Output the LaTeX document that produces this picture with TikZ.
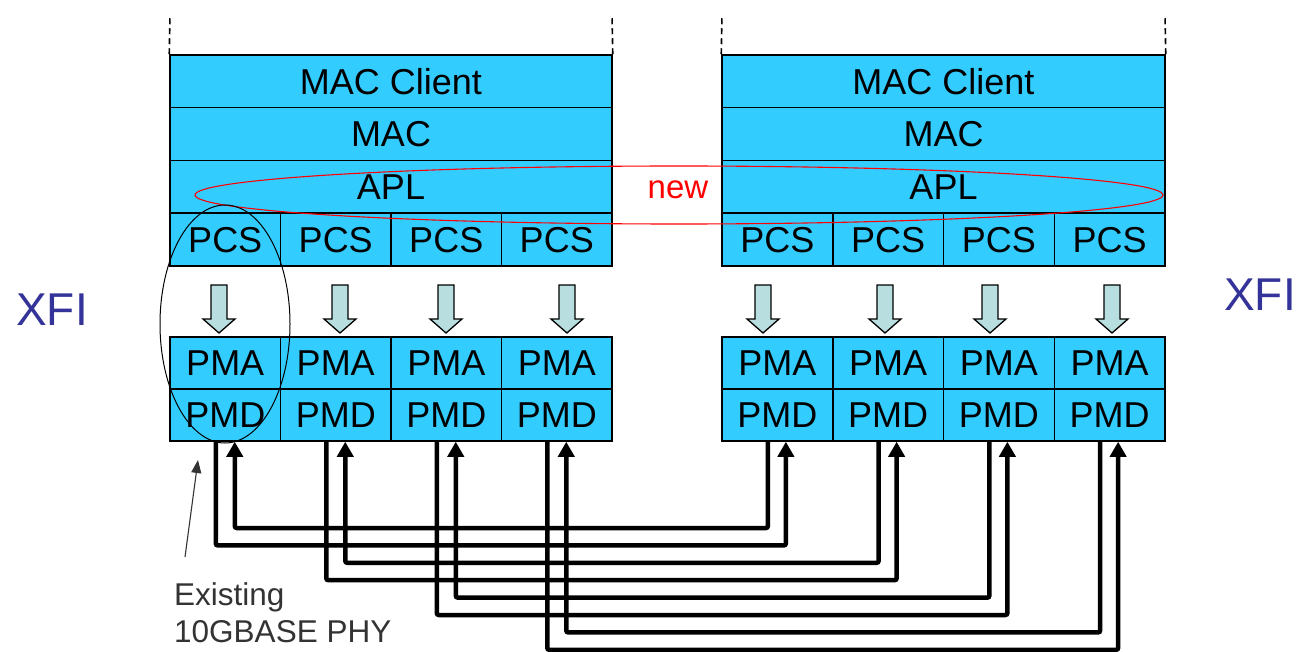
\documentclass[tikz,border=0pt]{standalone}
\usepackage{fontspec}
\setmainfont{Liberation Sans}
\usetikzlibrary{arrows.meta}
\definecolor{cellblue}{HTML}{33CCFF}
\definecolor{arrowfill}{HTML}{B8DEE0}
\definecolor{xfiblue}{HTML}{333399}
\definecolor{newred}{HTML}{FF0000}
\definecolor{graytext}{HTML}{333333}
\begin{document}
\begin{tikzpicture}[x=1pt,y=-1pt,
  cell/.style={draw=black, line width=1.5pt, fill=cellblue, inner sep=0pt,
    font=\fontsize{36}{40}\selectfont},
  toprow/.style={cell, minimum height=52.75pt},
  lowrow/.style={cell, minimum height=52pt},
  dashline/.style={line width=1.6pt, dash pattern=on 6pt off 4pt},
  blockarrow/.style={draw=black, line width=1.3pt, fill=arrowfill, line join=miter},
  conn/.style={line width=4.5pt, rounded corners=2pt,
    -{Triangle[length=15pt,width=16pt]}},
  thinarrow/.style={line width=1.1pt, draw=graytext, -{Triangle[length=13pt,width=10pt]}},
  xfi/.style={text=xfiblue, font=\fontsize{46}{50}\selectfont, inner sep=0pt},
]
\useasboundingbox (0,0) rectangle (1300,652);

% ---------- left stack ----------
\node[toprow, minimum width=442pt] (LmacC) at (391,81.375) {MAC Client};
\node[toprow, minimum width=442pt] (Lmac) at (391,134.125) {MAC};
\node[toprow, minimum width=442pt] (Lapl) at (391,186.875) {APL};
\foreach \i in {1,...,4}{
  \node[toprow, minimum width=110.5pt] (Lpcs\i) at ({170+110.5*(\i-0.5)},239.625) {PCS};
  \node[lowrow, minimum width=110.5pt] (Lpma\i) at ({170+110.5*(\i-0.5)},363) {PMA};
  \node[lowrow, minimum width=110.5pt] (Lpmd\i) at ({170+110.5*(\i-0.5)},415) {PMD};
}
% ---------- right stack ----------
\node[toprow, minimum width=443pt] (RmacC) at (943.5,81.375) {MAC Client};
\node[toprow, minimum width=443pt] (Rmac) at (943.5,134.125) {MAC};
\node[toprow, minimum width=443pt] (Rapl) at (943.5,186.875) {APL};
\foreach \i in {1,...,4}{
  \node[toprow, minimum width=110.75pt] (Rpcs\i) at ({722+110.75*(\i-0.5)},239.625) {PCS};
  \node[lowrow, minimum width=110.75pt] (Rpma\i) at ({722+110.75*(\i-0.5)},363) {PMA};
  \node[lowrow, minimum width=110.75pt] (Rpmd\i) at ({722+110.75*(\i-0.5)},415) {PMD};
}

% ---------- dashed continuation lines ----------
\coordinate (Ltl) at (170,15);
\coordinate (Ltr) at (612,15);
\coordinate (Rtl) at (722,15);
\coordinate (Rtr) at (1165,15);
\draw[dashline] (LmacC.north west) -- (Ltl);
\draw[dashline] (LmacC.north east) -- (Ltr);
\draw[dashline] (RmacC.north west) -- (Rtl);
\draw[dashline] (RmacC.north east) -- (Rtr);

% ---------- block arrows PCS -> PMA ----------
\foreach \x in {219,340,446,567,763,885,990,1112}{
  \filldraw[blockarrow] ({\x-8},285) -- ({\x+8},285) -- ({\x+8},319) -- ({\x+16},319)
    -- (\x,333) -- ({\x-16},319) -- ({\x-8},319) -- cycle;
}

% ---------- crossing connectors ----------
\foreach \i in {1,...,4}{
  \coordinate (Lout\i) at ([xshift=-9.5pt]Lpmd\i.south);
  \coordinate (Lin\i) at ([xshift=9.5pt]Lpmd\i.south);
  \coordinate (Rout\i) at ([xshift=-9.5pt]Rpmd\i.south);
  \coordinate (Rin\i) at ([xshift=8.5pt]Rpmd\i.south);
  \coordinate (lvA\i) at (0,{528+17.4*(2*\i-2)});
  \coordinate (lvB\i) at (0,{528+17.4*(2*\i-1)});
  \draw[conn] (Rout\i) -- (Rout\i |- lvA\i) -- (Lin\i |- lvA\i) -- (Lin\i);
  \draw[conn] (Lout\i) -- (Lout\i |- lvB\i) -- (Rin\i |- lvB\i) -- (Rin\i);
}

% ---------- highlight ellipses ----------
\draw[newred, line width=1.1pt] (679,195) ellipse [x radius=484pt, y radius=29pt];
\draw[black, line width=1pt] (225,324) ellipse [x radius=65pt, y radius=119pt];

% ---------- labels ----------
\node[text=newred, font=\fontsize{33}{36}\selectfont, inner sep=0pt] (newlbl) at (678,190) {new};
\node[xfi] (xfiL) at (52,310) {XFI};
\node[xfi] (xfiR) at (1260,295) {XFI};
\node[anchor=north west, align=left, text=graytext, inner sep=0pt,
  font=\fontsize{31.5}{37}\selectfont] (exist) at (174,582) {Existing\\10GBASE PHY};
\coordinate (exTail) at (185,557);
\coordinate (exHead) at (198,460);
\draw[thinarrow] (exTail) -- (exHead);
\end{tikzpicture}
\end{document}
